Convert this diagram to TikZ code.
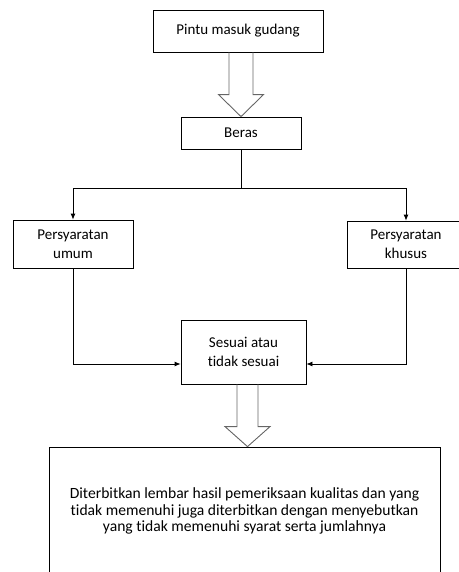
\documentclass[tikz,border=0pt]{standalone}
\usepackage{fontspec}
\setmainfont{Carlito}[Ligatures=NoCommon]
\usetikzlibrary{calc,arrows.meta}

\begin{document}
\begin{tikzpicture}[x=1pt,y=-1pt,
    kotak/.style={draw,line width=0.8pt,align=center,inner sep=0pt,font=\fontsize{15}{19}\selectfont},
    panah/.style={-{Latex[length=6pt,width=5pt]},line width=0.8pt},
    tebal/.style={draw=black!60,line width=0.9pt,line join=miter}]
      \useasboundingbox (0,0) rectangle (458,572);
      \draw
        (238,31) node[kotak,minimum width=170pt,minimum height=42pt] (gerbang){Pintu masuk gudang}
        (241,133) node[kotak,minimum width=120pt,minimum height=32pt] (beras){Beras}
        (73,244) node[kotak,minimum width=120pt,minimum height=48pt] (umum){Persyaratan\\umum}
        (406,244.5) node[kotak,minimum width=118pt,minimum height=47pt] (khusus){Persyaratan\\khusus}
        (243.5,352) node[kotak,minimum width=125pt,minimum height=64pt] (sesuai){Sesuai atau\\tidak sesuai}
        (244.5,511) node[kotak,minimum width=391pt,minimum height=128pt,font=\fontsize{15.6}{16.5}\selectfont] (hasil){Diterbitkan lembar hasil pemeriksaan kualitas dan yang\\tidak memenuhi juga diterbitkan dengan menyebutkan\\yang tidak memenuhi syarat serta jumlahnya};
      \coordinate (ujung) at ([xshift=3pt]hasil.north);
      \begin{scope}[panah]
        \draw (beras.south) -- ++(0,39) -| (umum.north);
        \draw (beras.south) -- ++(0,39) -| (khusus.north);
        \draw (umum.south) |- ([yshift=-12pt]sesuai.west);
        \draw (khusus.south) |- ([yshift=-12pt]sesuai.east);
      \end{scope}
      \begin{scope}[tebal]
        \draw ($(gerbang.south -| beras.north)+(-12,0)$) -- ($(beras.north)+(-12,-22)$) -- ($(beras.north)+(-22.5,-22)$)
          -- (beras.north) -- ($(beras.north)+(22.5,-22)$) -- ($(beras.north)+(12,-22)$) -- ($(gerbang.south -| beras.north)+(12,0)$);
        \draw ($(sesuai.south -| ujung)+(-10.5,0)$) -- ($(ujung)+(-10.5,-20)$) -- ($(ujung)+(-22.5,-20)$)
          -- (ujung) -- ($(ujung)+(22.5,-20)$) -- ($(ujung)+(10.5,-20)$) -- ($(sesuai.south -| ujung)+(10.5,0)$);
      \end{scope}
    \end{tikzpicture}
\end{document}
